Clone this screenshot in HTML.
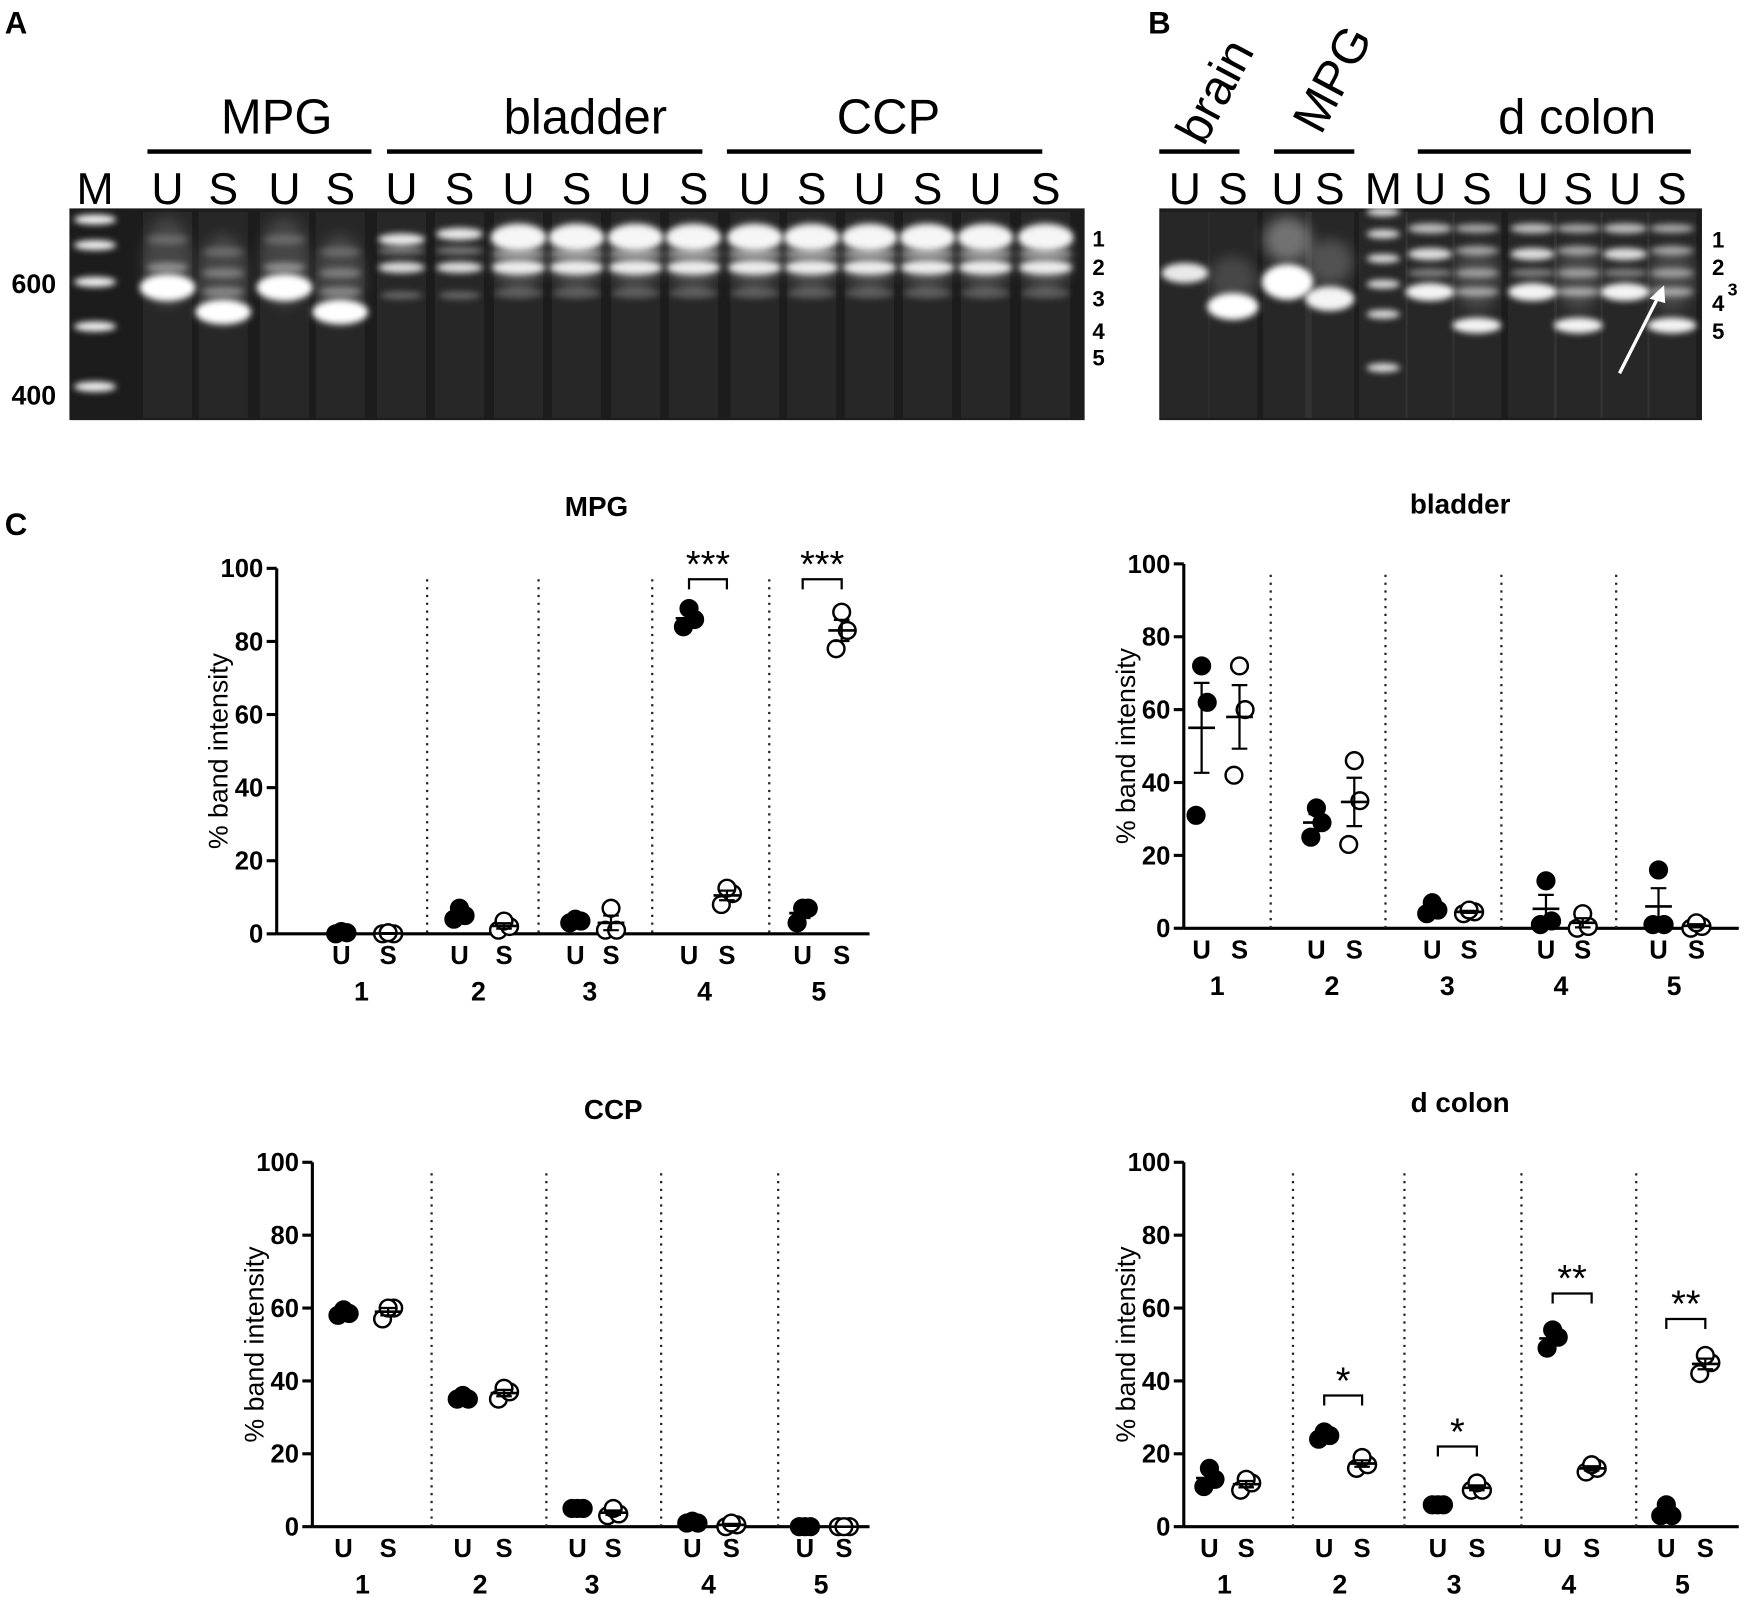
<!DOCTYPE html>
<html><head><meta charset="utf-8"><style>
html,body{margin:0;padding:0;background:#fff}
svg{display:block}
text{font-family:"Liberation Sans",Arial,sans-serif}
.b{font-weight:bold}
</style></head><body>
<svg id="fig" width="1748" height="1598" viewBox="0 0 1568 1434" xmlns="http://www.w3.org/2000/svg">
<defs>
<filter id="bl" x="-50%" y="-200%" width="200%" height="500%"><feGaussianBlur stdDeviation="2.8"/></filter>
<filter id="bl2" x="-50%" y="-200%" width="200%" height="500%"><feGaussianBlur stdDeviation="6"/></filter>
</defs>
<text x="4" y="30" font-size="28" class="b">A</text>
<text x="1030" y="30" font-size="28" class="b">B</text>
<text x="4" y="480" font-size="28" class="b">C</text>

<g id="gelA">
<rect x="62" y="187" width="911" height="190" fill="#1c1c1c"/>
</g>
<g id="gelB">
<rect x="1040" y="187" width="487" height="190" fill="#1c1c1c"/>
</g>
<g id="gelLabels" font-size="40">
<text x="248" y="120" text-anchor="middle" font-size="44">MPG</text>
<text x="525" y="120" text-anchor="middle" font-size="44">bladder</text>
<text x="797" y="120" text-anchor="middle" font-size="44">CCP</text>
<rect x="132" y="134" width="201" height="4" fill="#000"/>
<rect x="347" y="134" width="283" height="4" fill="#000"/>
<rect x="652" y="134" width="283" height="4" fill="#000"/>
<text x="1415" y="120" text-anchor="middle" font-size="44">d colon</text>
<text x="0" y="0" font-size="44" transform="translate(1080,132) rotate(-62)">brain</text>
<text x="0" y="0" font-size="44" transform="translate(1185,122) rotate(-62)">MPG</text>
<rect x="1040" y="134" width="72" height="4" fill="#000"/>
<rect x="1143" y="134" width="72" height="4" fill="#000"/>
<rect x="1272" y="134" width="245" height="4" fill="#000"/>
<text x="10" y="263" font-size="24" class="b">600</text>
<text x="10" y="363" font-size="24" class="b">400</text>
</g>
<g id="charts"></g>
</svg>
<script>
const NS='http://www.w3.org/2000/svg';
function mk(parent,tag,attrs,txt){const e=document.createElementNS(NS,tag);for(const k in attrs)e.setAttribute(k,attrs[k]);if(txt!==undefined)e.textContent=txt;parent.appendChild(e);return e;}

// ---------- gel lanes ----------
const gelALaneLetters=['M','U','S','U','S','U','S','U','S','U','S','U','S','U','S','U','S'];
const gelALaneX=[85,150,200,255,305,360,412,465,517,570,622,677,728,780,832,884,938];
const gelBLaneLetters=['U','S','U','S','M','U','S','U','S','U','S'];
const gelBLaneX=[1063,1106,1155,1193,1241,1283,1325,1375,1416,1458,1500];
const bandNumsA=['1','2','3','4','5'];
const bandNumsAY=[214,240,268,297,321];
const bandNumsB=['1','2','3','4','5'];
const bandNumsBY=[215,240,258,272,297];

const gA=document.getElementById('gelA'), gB=document.getElementById('gelB'), gl=document.getElementById('gelLabels');
gelALaneLetters.forEach((l,i)=>{const t=mk(gl,'text',{x:gelALaneX[i],y:183,'text-anchor':'middle','font-size':40},l);

});
gelBLaneLetters.forEach((l,i)=>{const t=mk(gl,'text',{x:gelBLaneX[i],y:183,'text-anchor':'middle','font-size':40},l);

});
bandNumsA.forEach((n,i)=>{const t=mk(gl,'text',{x:980,y:bandNumsAY[i]+7,'font-size':20,'class':'b'},n);

});
bandNumsB.forEach((n,i)=>{const t=mk(gl,'text',{x:i==2?1550:1536,y:bandNumsBY[i]+7,'font-size':i==2?16:20,'class':'b'},n);

});

function band(g,x,y,w,h,op,blur){const e=mk(g,'ellipse',{cx:x,cy:y,rx:w/2,ry:h/2,fill:'#fff',opacity:op,filter:blur?'url(#bl2)':'url(#bl)'});

}
function smear(g,x){const r=mk(g,'rect',{x:x-22,y:190,width:44,height:185,fill:'#fff',opacity:0.05});

}
gelALaneX.slice(1).forEach(x=>smear(gA,x));
gelBLaneX.forEach(x=>smear(gB,x));
// marker A
[197,220,253,293,347].forEach(y=>band(gA,85,y,38,9,0.95));
// MPG lanes
[150,255].forEach(x=>{band(gA,x,258,50,24,1);band(gA,x,240,38,9,0.4);band(gA,x,215,38,9,0.2);band(gA,x,235,44,80,0.14,1);});
[200,305].forEach(x=>{band(gA,x,280,50,22,1);band(gA,x,262,38,9,0.35);band(gA,x,245,38,9,0.3);band(gA,x,226,38,9,0.2);band(gA,x,250,44,80,0.14,1);});
// bladder/ccp
[360,412].forEach((x,i)=>{band(gA,x,i?210:215,42,11,0.9);band(gA,x,240,42,10,0.85);band(gA,x,225,42,8,0.35);band(gA,x,265,38,7,0.3);});
for(let i=7;i<17;i++){const x=gelALaneX[i];band(gA,x,213,50,24,0.95);band(gA,x,240,48,13,0.9);band(gA,x,228,48,8,0.45);band(gA,x,263,44,10,0.22);band(gA,x,230,48,60,0.18,1);}
// gel B
band(gB,1063,245,42,18,0.9);band(gB,1106,275,46,24,1);band(gB,1106,250,42,40,0.15,1);
band(gB,1155,253,46,32,1);band(gB,1155,215,42,40,0.35,1);band(gB,1193,268,44,22,0.95);band(gB,1193,235,42,40,0.2,1);
[190,210,232,255,282,330].forEach(y=>band(gB,1241,y,30,8,0.85));
[1283,1375,1458].forEach(x=>{band(gB,x,205,40,9,0.7);band(gB,x,228,40,11,0.85);band(gB,x,262,44,16,0.95);band(gB,x,245,40,8,0.4);});
[1325,1416,1500].forEach(x=>{band(gB,x,205,40,8,0.6);band(gB,x,225,40,8,0.55);band(gB,x,245,40,8,0.5);band(gB,x,262,40,8,0.55);band(gB,x,292,44,14,0.95);band(gB,x,250,40,60,0.15,1);});
const arr=mk(gB,'line',{x1:1453,y1:335,x2:1490,y2:262,stroke:'#fff','stroke-width':3});


const ah=mk(gB,'path',{d:'M1493,256 L1480,268 L1494,272 Z',fill:'#fff'});



// ---------- chart data ----------
const groupLabels=['1','2','3','4','5'];
const yTicks=[0,20,40,60,80,100];
const mpgU=[[0,0.3,0.6],[4,5,7],[3,3.5,4],[84,86,89],[3,7,7]];
const mpgS=[[0,0,0.3],[1,2,3.5],[1,1,7],[8,11,12.5],[78,83,88]];
const mpgSig=['','','','***','***'];
const bladderU=[[31,62,72],[25,29,33],[4,5,7],[1,2,13],[1,1,16]];
const bladderS=[[42,60,72],[23,35,46],[4,4.5,5],[0,0.5,4],[0,0.5,1.5]];
const bladderSig=['','','','',''];
const ccpU=[[58,58.5,59.5],[35,35,36],[5,5,5],[1,1,1.5],[0,0,0]];
const ccpS=[[57,60,60],[35,37,38],[3,3.5,5],[0,0.5,1],[0,0,0]];
const ccpSig=['','','','',''];
const dcolonU=[[11,13,16],[24,25,26],[6,6,6],[49,52,54],[3,3,6]];
const dcolonS=[[10,12,13],[16,17,19],[10,10,12],[15,16,17],[42,45,47]];
const dcolonSig=['','*','*','**','**'];

function chart(cfg){
  const g=mk(document.getElementById('charts'),'g',{});
  
  
  const y=v=>cfg.y0-(cfg.y0-cfg.y100)*v/100;
  const t=mk(g,'text',{x:cfg.tx,y:cfg.ty,'text-anchor':'middle','font-size':25,'class':'b'},cfg.title);
  
  
  const ax=mk(g,'line',{x1:cfg.ax,y1:y(100),x2:cfg.ax,y2:cfg.y0,stroke:'#000','stroke-width':2.8});
  
  
  const xa=mk(g,'line',{x1:cfg.ax,y1:cfg.y0,x2:cfg.xend,y2:cfg.y0,stroke:'#000','stroke-width':2.8});
  
  
  yTicks.forEach(v=>{
    const tk=mk(g,'line',{x1:cfg.ax-9,y1:y(v),x2:cfg.ax,y2:y(v),stroke:'#000','stroke-width':2.8});
    
    
    const tl=mk(g,'text',{x:cfg.ax-12,y:y(v)+8,'text-anchor':'end','font-size':23,'class':'b'},v);
    
    
  });
  const yt=mk(g,'text',{x:0,y:0,'text-anchor':'middle','font-size':24,transform:`translate(${cfg.ax-44},${y(50)}) rotate(-90)`},'% band intensity');
  
  
  cfg.dots.forEach(dx=>{
    const d=mk(g,'line',{x1:dx,y1:y(97),x2:dx,y2:cfg.y0,stroke:'#222','stroke-width':2,'stroke-dasharray':'2 5'});
    
    
  });
  groupLabels.forEach((lab,i)=>{
    const ux=cfg.ux[i], sx=cfg.sx[i];
    const u=mk(g,'text',{x:ux,y:cfg.y0+27,'text-anchor':'middle','font-size':23,'class':'b'},'U');
    
    
    const s=mk(g,'text',{x:sx,y:cfg.y0+27,'text-anchor':'middle','font-size':23,'class':'b'},'S');
    
    
    const n=mk(g,'text',{x:(ux+sx)/2-3,y:cfg.y0+60,'text-anchor':'middle','font-size':24,'class':'b'},lab);
    
    
    [[cfg.U[i],ux,'#000'],[cfg.S[i],sx,'none']].forEach(([vals,cx,fill])=>{
      const offs=[-5,5,0];
      vals.forEach((v,k)=>{
        const c=mk(g,'circle',{cx:cx+offs[k],cy:y(v),r:7.5,fill:fill==='none'?'#fff':fill,stroke:'#000','stroke-width':2.2});
        
        
      });
      const m=vals.reduce((a,b)=>a+b,0)/vals.length;
      const sd=Math.sqrt(vals.reduce((a,b)=>a+(b-m)*(b-m),0)/(vals.length-1));
      const se=sd/Math.sqrt(vals.length);
      const ml=mk(g,'line',{x1:cx-12,y1:y(m),x2:cx+12,y2:y(m),stroke:'#000','stroke-width':2.4});
      
      
      const el=mk(g,'path',{d:`M${cx},${y(m+se)}V${y(m-se)}M${cx-7},${y(m+se)}H${cx+7}M${cx-7},${y(m-se)}H${cx+7}`,stroke:'#000','stroke-width':2,fill:'none'});
      
      
    });
    if(cfg.sig[i]){
      const top=Math.max(...cfg.U[i],...cfg.S[i]);
      const by=y(Math.min(top+10,97));
      const br=mk(g,'path',{d:`M${ux},${by+9}V${by}H${sx}V${by+9}`,stroke:'#000','stroke-width':2,fill:'none'});
      
      
      const st=mk(g,'text',{x:(ux+sx)/2,y:by-2,'text-anchor':'middle','font-size':34},cfg.sig[i]);
      
      
    }
  });
}
chart({name:'mpg-chart',title:'MPG',tx:535,ty:463,ax:248,y0:838,y100:510,xend:780,
  ux:[306,412,516,618,720],sx:[348,452,548,652,755],dots:[383,483,585,690],U:mpgU,S:mpgS,sig:mpgSig});
chart({name:'bladder-chart',title:'bladder',tx:1310,ty:461,ax:1062,y0:833,y100:506,xend:1560,
  ux:[1078,1181,1285,1387,1488],sx:[1112,1215,1318,1420,1522],dots:[1140,1243,1347,1450],U:bladderU,S:bladderS,sig:bladderSig});
chart({name:'ccp-chart',title:'CCP',tx:550,ty:1004,ax:280,y0:1370,y100:1043,xend:780,
  ux:[308,415,518,621,722],sx:[348,452,550,656,757],dots:[387,490,593,698],U:ccpU,S:ccpS,sig:ccpSig});
chart({name:'d-colon-chart',title:'d colon',tx:1310,ty:998,ax:1062,y0:1370,y100:1043,xend:1560,
  ux:[1085,1188,1290,1393,1495],sx:[1118,1222,1325,1428,1530],dots:[1160,1260,1365,1468],U:dcolonU,S:dcolonS,sig:dcolonSig});
</script>
</body></html>
